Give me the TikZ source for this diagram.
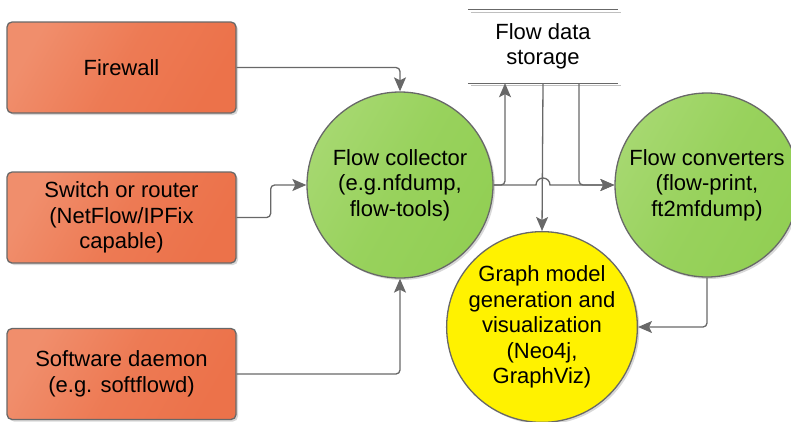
\documentclass[tikz,border=0pt]{standalone}
\usepackage{fontspec}
\setmainfont{Liberation Sans}
\usetikzlibrary{arrows.meta,shadows}
\definecolor{boxlight}{RGB}{240,142,108}
\definecolor{boxdark}{RGB}{236,114,74}
\definecolor{greenlight}{RGB}{166,216,112}
\definecolor{greendark}{RGB}{146,207,84}
\definecolor{linegray}{RGB}{104,104,104}
\begin{document}
\begin{tikzpicture}[x=1pt, y=-1pt,
  every node/.style={font=\fontsize{22}{25.5}\selectfont, align=center, text=black},
  srcbox/.style={draw=linegray, line width=1.3pt, rounded corners=5pt, minimum width=229pt, minimum height=91pt,
    left color=boxlight, right color=boxdark, middle color=boxdark!70!boxlight, shading angle=60,
    drop shadow={shadow xshift=2pt, shadow yshift=-2pt, fill=black!30}},
  toolcircle/.style={circle, draw=linegray, line width=1.3pt, minimum size=#1, inner sep=0pt,
    left color=greenlight, right color=greendark, middle color=greendark!70!greenlight, shading angle=60,
    drop shadow={shadow xshift=2pt, shadow yshift=-2pt, fill=black!30}},
  arr/.style={draw=linegray, line width=1.3pt, rounded corners=4pt, -{Stealth[length=14pt,width=12pt,inset=3pt]}}]
\useasboundingbox (0,0) rectangle (791,421);
\node[srcbox] (firewall) at (121.5,67.5) {Firewall};
\node[srcbox] (switch) at (121.5,217.5) {Switch or router\\(NetFlow/IPFix\\capable)};
\node[srcbox] (daemon) at (121.5,374) {Software daemon\\(e.g. softflowd)};
\node[toolcircle=186pt] (collector) at (400,185) {Flow collector\\(e.g.nfdump,\\flow-tools)};
\node[toolcircle=184pt] (converter) at (707,185) {Flow converters\\(flow-print,\\ft2mfdump)};
\node[circle, draw=linegray, line width=1.3pt, minimum size=182pt, inner sep=0pt, fill=yellow,
  drop shadow={shadow xshift=2pt, shadow yshift=-2pt, fill=black!30}] (graphmodel) at (542,327)
  {Graph model\\generation and\\visualization\\(Neo4j,\\GraphViz)};
\node[minimum width=150pt, minimum height=73pt, inner sep=0pt] (storage) at (543,46.5) {Flow data\\storage};
\draw[black!25, line width=1.5pt] ([shift={(3pt,-2.5pt)}]storage.north west) -- ([shift={(3pt,-2.5pt)}]storage.north east);
\draw[black!25, line width=1.5pt] ([shift={(3pt,-2.5pt)}]storage.south west) -- ([shift={(3pt,-2.5pt)}]storage.south east);
\draw[linegray, line width=1.3pt] (storage.north west) -- (storage.north east);
\draw[linegray, line width=1.3pt] (storage.south west) -- (storage.south east);
\draw[arr] (firewall.east) -| (collector.north);
\draw[arr] (switch.east) -- ++(34,0) |- (collector.west);
\draw[arr] (daemon.east) -| (collector.south);
\draw[arr] (collector.east) -| ([xshift=-38pt]storage.south);
\draw[arr] (storage.south) -- (graphmodel.north);
\draw[arr] ([xshift=36pt]storage.south) |- (converter.west);
\draw[arr, rounded corners=0pt] (collector.east) -- ([xshift=-7pt]collector.east -| storage.south)
  arc[start angle=180, end angle=0, radius=7pt] -- (converter.west);
\draw[arr] (converter.south) |- (graphmodel.east);
\end{tikzpicture}
\end{document}
